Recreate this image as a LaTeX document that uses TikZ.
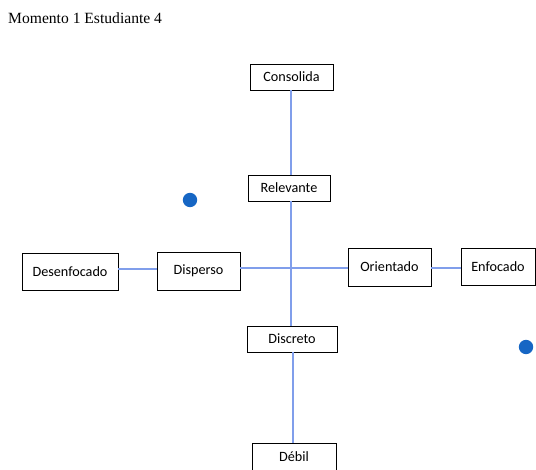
\documentclass[tikz,border=0pt]{standalone}
\usepackage{fontspec}
\setmainfont{Liberation Serif}
\newfontfamily\boxfont{Carlito}
\definecolor{linkblue}{RGB}{128,158,235}
\definecolor{dotblue}{RGB}{22,102,196}
\begin{document}
\begin{tikzpicture}[x=1pt,y=-1pt,
  label box/.style={draw=black, line width=0.9pt, fill=white, inner sep=0pt,
    font=\boxfont\fontsize{14.2}{16}\selectfont},
  link/.style={draw=linkblue, line width=1.1pt},
  marker/.style={fill=dotblue, draw=none}]
  \useasboundingbox (0,0) rectangle (536,470);
  \clip (0,0) rectangle (536,470);

  % title
  \node[anchor=base west, inner sep=0pt, font=\fontsize{15.6}{18}\selectfont] (title) at (8,24) {Momento 1 Estudiante 4};

  % vertical axis
  \node[label box, minimum width=83pt, minimum height=26pt] (consolida) at (291.5,77) {Consolida};
  \node[label box, minimum width=82pt, minimum height=26pt] (relevante) at (289,188) {Relevante};
  \node[label box, minimum width=90pt, minimum height=26pt] (discreto) at (292,339) {Discreto};
  \node[label box, minimum width=84pt, minimum height=30pt, text depth=0pt] (debil) at (294,458) {\raisebox{2pt}{Débil}};

  % horizontal axis
  \node[label box, minimum width=96pt, minimum height=37pt] (desenfocado) at (70,271.5) {Desenfocado};
  \node[label box, minimum width=83pt, minimum height=38pt] (disperso) at (198.5,271) {Disperso};
  \node[label box, minimum width=83pt, minimum height=38pt] (orientado) at (389.5,267) {Orientado};
  \node[label box, minimum width=74pt, minimum height=37pt] (enfocado) at (498,266.5) {Enfocado};

  \coordinate (cross) at (292,268);

  % connectors
  \draw[link] (consolida.south -| 291,0) -- (relevante.north -| 291,0);
  \draw[link] (relevante.south -| 291,0) -- (discreto.north -| 291,0);
  \draw[link] (discreto.south -| 293,0) -- (debil.north -| 293,0);
  \draw[link] (disperso.east |- cross) -- (orientado.west |- cross);
  \draw[link] (desenfocado.east |- 0,269) -- (disperso.west |- 0,269);
  \draw[link] (orientado.east |- 0,268) -- (enfocado.west |- 0,268);

  % markers
  \fill[marker] (190,200) circle (7.2);
  \fill[marker] (526,347) circle (7.2);
\end{tikzpicture}
\end{document}
